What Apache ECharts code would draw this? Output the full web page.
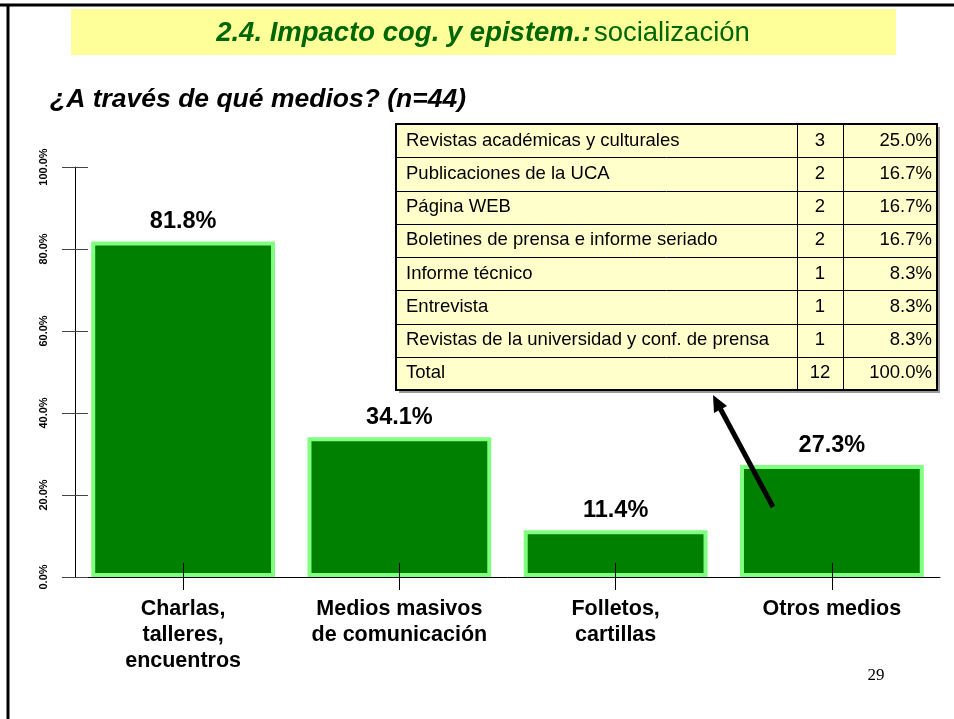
<!DOCTYPE html>
<html>
<head>
<meta charset="utf-8">
<script src="https://cdn.jsdelivr.net/npm/echarts@6/dist/echarts.min.js"></script>
<style>
  html, body { margin: 0; padding: 0; background: #fff; }
  #chart { width: 954px; height: 719px; }
</style>
</head>
<body>
<div id="chart"></div>
<script>
// datos del gráfico
var categories = ['Charlas,\ntalleres,\nencuentros', 'Medios masivos\nde comunicación', 'Folletos,\ncartillas', 'Otros medios'];
var percents = [81.8, 34.1, 11.4, 27.3];
var yTicks = [0, 20, 40, 60, 80, 100];

// tabla "Otros medios"
var tableLabels = ['Revistas académicas y culturales', 'Publicaciones de la UCA', 'Página WEB',
  'Boletines de prensa e informe seriado', 'Informe técnico', 'Entrevista',
  'Revistas de la universidad y conf. de prensa', 'Total'];
var tableCounts = ['3', '2', '2', '2', '1', '1', '1', '12'];
var tablePcts = ['25.0%', '16.7%', '16.7%', '16.7%', '8.3%', '8.3%', '8.3%', '100.0%'];

var FONT = "'Liberation Sans', Arial, sans-serif";

function buildTable() {
  var x0 = 396, x1 = 797, x2 = 843, x3 = 937;
  var y0 = 124, y1 = 390;
  var rowH = (y1 - y0) / tableLabels.length;
  var els = [];
  // sombra + fondo
  els.push({ type: 'rect', shape: { x: x0 + 3, y: y0 + 3, width: x3 - x0, height: y1 - y0 }, style: { fill: '#9a9a9a' }, z: 10 });
  els.push({ type: 'rect', shape: { x: x0, y: y0, width: x3 - x0, height: y1 - y0 }, style: { fill: '#FFFFCC', stroke: '#000', lineWidth: 2 }, z: 11 });
  for (var i = 1; i < tableLabels.length; i++) {
    var yy = Math.round(y0 + i * rowH) + 0.5;
    els.push({ type: 'line', shape: { x1: x0, y1: yy, x2: x3, y2: yy }, style: { stroke: '#000', lineWidth: 1 }, z: 12 });
  }
  [x1, x2].forEach(function (xx) {
    els.push({ type: 'line', shape: { x1: xx + 0.5, y1: y0, x2: xx + 0.5, y2: y1 }, style: { stroke: '#000', lineWidth: 1 }, z: 12 });
  });
  for (var r = 0; r < tableLabels.length; r++) {
    var cy = y0 + (r + 0.5) * rowH;
    els.push({ type: 'text', x: x0 + 10, y: cy, style: { text: tableLabels[r], font: '18.5px ' + FONT, fill: '#000', verticalAlign: 'middle', align: 'left' }, z: 13 });
    els.push({ type: 'text', x: (x1 + x2) / 2, y: cy, style: { text: tableCounts[r], font: '18.5px ' + FONT, fill: '#000', verticalAlign: 'middle', align: 'center' }, z: 13 });
    els.push({ type: 'text', x: x3 - 5, y: cy, style: { text: tablePcts[r], font: '18.5px ' + FONT, fill: '#000', verticalAlign: 'middle', align: 'right' }, z: 13 });
  }
  return els;
}

var myChart = echarts.init(document.getElementById('chart'));

var graphics = [
  // marco de la diapositiva
  { type: 'line', shape: { x1: 0, y1: 5, x2: 954, y2: 5 }, style: { stroke: '#000', lineWidth: 3 } },
  { type: 'line', shape: { x1: 8, y1: 4, x2: 8, y2: 719 }, style: { stroke: '#000', lineWidth: 3 } },
  // banda del título
  { type: 'rect', shape: { x: 71, y: 9, width: 825, height: 46 }, style: { fill: '#FFFF99' } },
  {
    type: 'text', x: 483, y: 33,
    style: {
      text: '{a|2.4. Impacto cog. y epistem.:} {b|socialización}',
      align: 'center', verticalAlign: 'middle',
      rich: {
        a: { font: 'italic bold 27.5px ' + FONT, fill: '#006600' },
        b: { font: '27.5px ' + FONT, fill: '#006600' }
      }
    }
  },
  { type: 'text', x: 50, y: 100, style: { text: '¿A través de qué medios? (n=44)', font: 'italic bold 26.5px ' + FONT, fill: '#000', verticalAlign: 'middle' } },
  // número de página
  { type: 'text', x: 876, y: 676, style: { text: '29', font: "17px 'Liberation Serif', 'Times New Roman', serif", fill: '#000', align: 'center', verticalAlign: 'middle' } },
  // flecha hacia la tabla
  { type: 'line', shape: { x1: 773, y1: 507, x2: 720.5, y2: 409 }, style: { stroke: '#000', lineWidth: 5 }, z: 20 },
  { type: 'polygon', shape: { points: [[713, 395], [727, 406], [714, 413]] }, style: { fill: '#000' }, z: 20 }
].concat(buildTable());

var option = {
  animation: false,
  backgroundColor: '#fff',
  grid: { left: 75, right: 14, top: 167, bottom: 142 },
  xAxis: [{
    type: 'category',
    data: categories,
    axisLine: { lineStyle: { color: '#000', width: 1 } },
    axisTick: { show: true, alignWithLabel: true, interval: 0, length: 13, lineStyle: { color: '#000' } },
    axisLabel: { color: '#000', fontFamily: FONT, fontWeight: 'bold', fontSize: 21.5, lineHeight: 26, margin: 19, interval: 0 }
  }, {
    // marcas hacia dentro, por encima de las barras
    type: 'category',
    data: categories,
    position: 'bottom',
    z: 10,
    axisLine: { show: false },
    axisTick: { show: true, inside: true, alignWithLabel: true, interval: 0, length: 14, lineStyle: { color: '#000' } },
    axisLabel: { show: false, interval: 0 }
  }],
  yAxis: [{
    type: 'value',
    min: 0, max: 100, interval: 20,
    axisLine: { show: true, lineStyle: { color: '#000' } },
    axisTick: { show: true, length: 13, lineStyle: { color: '#444' } },
    splitLine: { show: false },
    axisLabel: {
      rotate: 90, margin: 26, color: '#000', fontFamily: FONT, fontWeight: 'bold', fontSize: 11,
      formatter: function (v) { return yTicks.indexOf(v) >= 0 ? v.toFixed(1) + '%' : ''; }
    }
  }, {
    type: 'value',
    min: 0, max: 100, interval: 20,
    position: 'left',
    axisLine: { show: false },
    axisTick: { show: true, inside: true, length: 13, lineStyle: { color: '#444' } },
    splitLine: { show: false },
    axisLabel: { show: false }
  }],
  series: [{
    type: 'bar',
    data: percents,
    barCategoryGap: '15%',
    z: 1,
    itemStyle: { color: '#008000', borderColor: '#80FF80', borderWidth: 4 },
    label: {
      show: true, position: 'top', distance: 8,
      color: '#000', fontFamily: FONT, fontWeight: 'bold', fontSize: 23.5,
      formatter: function (p) { return p.value.toFixed(1) + '%'; }
    }
  }],
  graphic: graphics
};

myChart.setOption(option);
</script>
</body>
</html>
